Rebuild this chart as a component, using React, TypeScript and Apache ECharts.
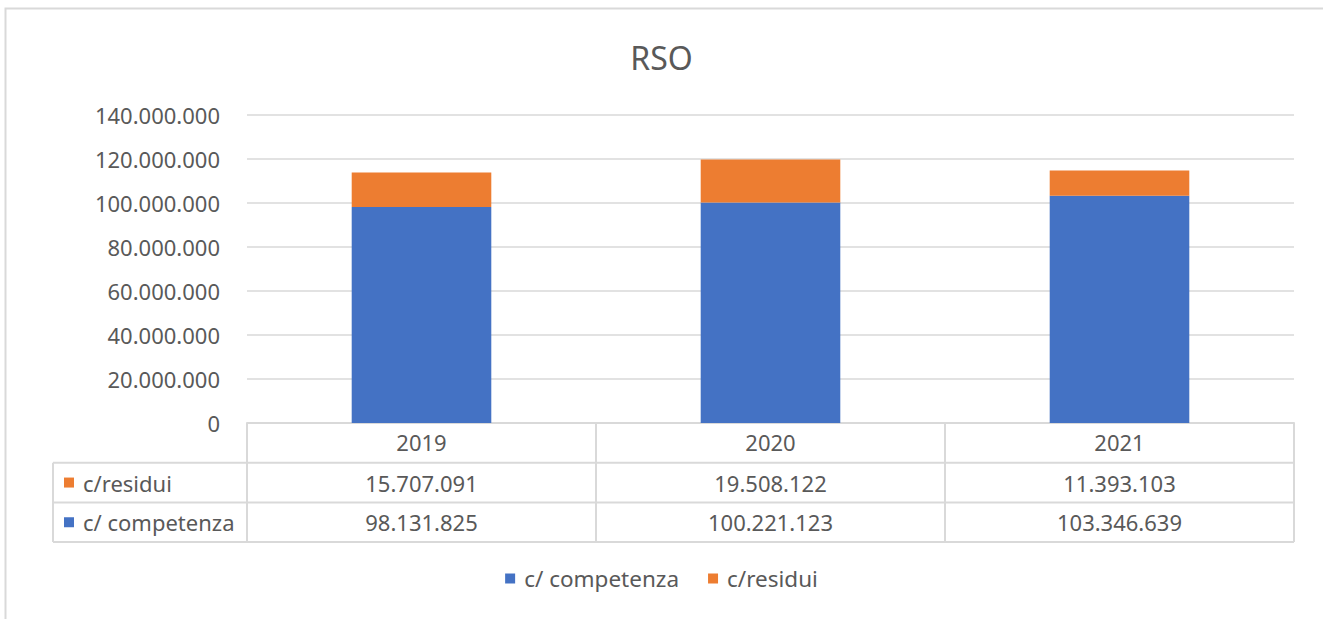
import React, { useEffect, useRef } from "react";
import * as echarts from "echarts";

const categories = ["2019", "2020", "2021"];
const competenza = [98131825, 100221123, 103346639];
const residui = [15707091, 19508122, 11393103];
const seriesNames = ["c/ competenza", "c/residui"];
const seriesColors = ["#4472C4", "#ED7D31"];
const yMin = 0;
const yMax = 140000000;
const yInterval = 20000000;
const titleText = "RSO";

const FONT = "Noto Sans";
const TEXT = "#595959";
const LINE = "#d9d9d9";

function fmt(v: number): string {
  const s = String(Math.round(v));
  return s.replace(/\B(?=(\d{3})+(?!\d))/g, ".");
}

export default function App() {
  const ref = useRef<HTMLDivElement>(null);
  useEffect(() => {
    if (!ref.current) return;
    const chart = echarts.init(ref.current, null, { renderer: "svg" });
    const option: any = {
      animation: false,
      backgroundColor: "#ffffff",
      textStyle: { fontFamily: FONT },
      title: {
        text: titleText,
        left: "center",
        top: 36,
        textStyle: { fontFamily: FONT, fontSize: 32, fontWeight: "normal", color: TEXT },
      },
      legend: {
        data: seriesNames,
        bottom: 24,
        left: "center",
        icon: "rect",
        itemWidth: 10,
        itemHeight: 10,
        itemGap: 29,
        textStyle: { fontFamily: FONT, fontSize: 22.5, color: TEXT, padding: [0, 0, 0, 4] },
      },
      grid: { left: 247, right: 29, top: 115, bottom: 196, containLabel: false },
      xAxis: {
        type: "category",
        data: categories,
        axisLine: { show: true, lineStyle: { color: LINE, width: 2 } },
        axisTick: { show: false },
        axisLabel: { color: TEXT, fontFamily: FONT, fontSize: 22, margin: 8 },
      },
      yAxis: {
        type: "value",
        min: yMin,
        max: yMax,
        interval: yInterval,
        axisLine: { show: false },
        axisTick: { show: false },
        splitLine: { lineStyle: { color: LINE, width: 1.5 } },
        axisLabel: {
          color: TEXT,
          fontFamily: FONT,
          fontSize: 22,
          margin: 27,
          formatter: (v: number) => fmt(v),
        },
      },
      series: [
        {
          name: seriesNames[0],
          type: "bar",
          stack: "tot",
          data: competenza,
          barWidth: "40%",
          itemStyle: { color: seriesColors[0] },
        },
        {
          name: seriesNames[1],
          type: "bar",
          stack: "tot",
          data: residui,
          barWidth: "40%",
          itemStyle: { color: seriesColors[1] },
        },
      ],
    };
    chart.setOption(option);

    const c0 = chart.convertToPixel({ xAxisIndex: 0 }, categories[0]) as number;
    const c1 = chart.convertToPixel({ xAxisIndex: 0 }, categories[1]) as number;
    const bw = c1 - c0;
    const left = c0 - bw / 2;
    const right = left + bw * categories.length;
    const y0 = chart.convertToPixel({ yAxisIndex: 0 }, 0) as number;
    const rowH = 39.7;
    const tableLeft = 53;

    const rows = [
      { name: seriesNames[1], color: seriesColors[1], values: residui },
      { name: seriesNames[0], color: seriesColors[0], values: competenza },
    ];

    const els: any[] = [];
    els.push({
      type: "rect",
      shape: { x: 5.5, y: 8.5, width: 1400, height: 700 },
      style: { fill: "none", stroke: LINE, lineWidth: 2 },
      silent: true,
    });
    for (let r = 1; r <= rows.length + 1; r++) {
      els.push({
        type: "line",
        shape: { x1: tableLeft, y1: y0 + r * rowH, x2: right, y2: y0 + r * rowH },
        style: { stroke: LINE, lineWidth: 2 },
      });
    }
    els.push({
      type: "line",
      shape: { x1: tableLeft, y1: y0 + rowH, x2: tableLeft, y2: y0 + (rows.length + 1) * rowH },
      style: { stroke: LINE, lineWidth: 2 },
    });
    for (let i = 0; i <= categories.length; i++) {
      const x = left + i * bw;
      els.push({
        type: "line",
        shape: { x1: x, y1: y0, x2: x, y2: y0 + (rows.length + 1) * rowH },
        style: { stroke: LINE, lineWidth: 2 },
      });
    }
    rows.forEach((row, r) => {
      const cy = y0 + rowH * (r + 1) + rowH / 2;
      els.push({
        type: "rect",
        shape: { x: 64, y: cy - 5, width: 10, height: 10 },
        style: { fill: row.color },
      });
      els.push({
        type: "text",
        x: 83,
        y: cy,
        style: {
          text: row.name,
          fill: TEXT,
          font: `22px "${FONT}"`,
          verticalAlign: "middle",
          align: "left",
        },
      });
      row.values.forEach((v, i) => {
        els.push({
          type: "text",
          x: left + bw * i + bw / 2,
          y: cy,
          style: {
            text: fmt(v),
            fill: TEXT,
            font: `22px "${FONT}"`,
            verticalAlign: "middle",
            align: "center",
          },
        });
      });
    });
    chart.setOption({ graphic: { elements: els } });

    return () => chart.dispose();
  }, []);
  return (
    <div
      ref={ref}
      style={{ position: "fixed", left: 0, top: 0, width: 1323, height: 619 }}
    />
  );
}
